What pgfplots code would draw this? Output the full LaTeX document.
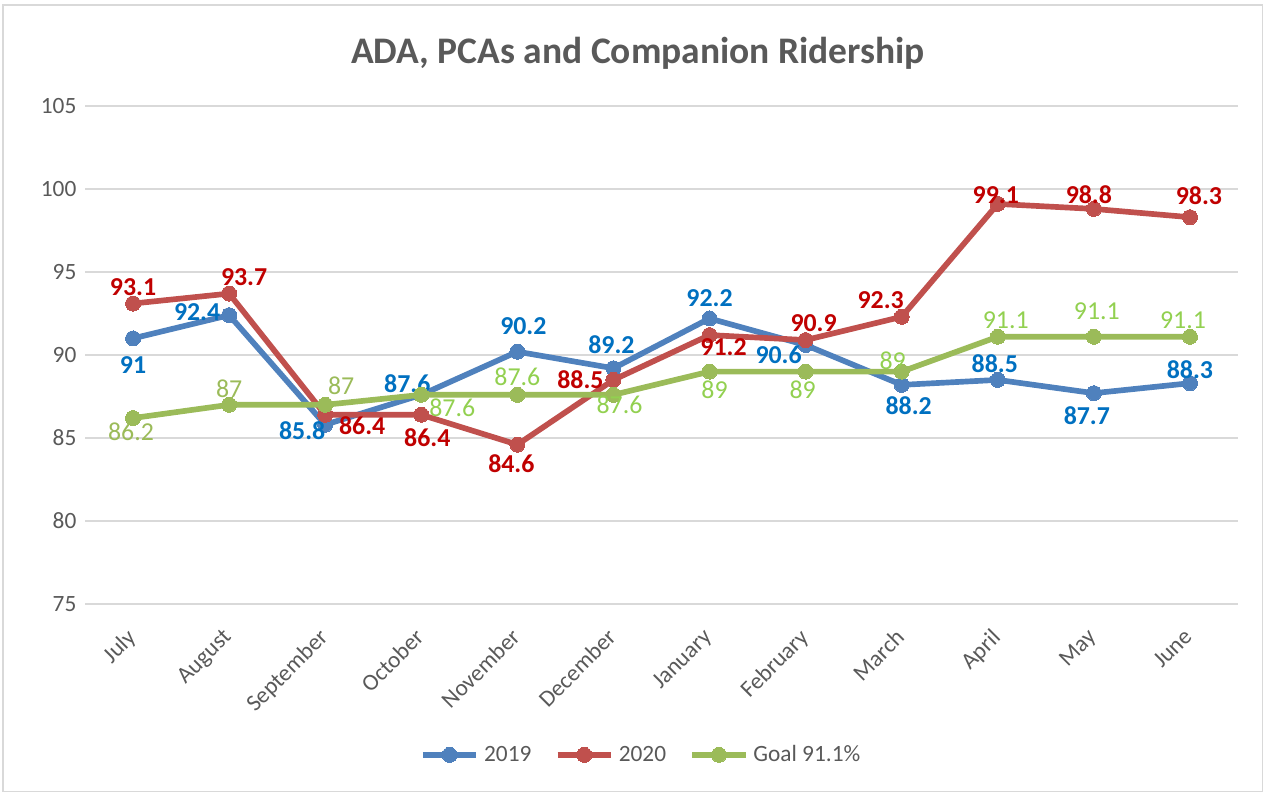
\documentclass[border=0pt]{standalone}
\usepackage{pgfplots}
\pgfplotsset{compat=1.18}
\usepackage{pgfplotstable}
\usepackage{fontspec}
\setmainfont{Carlito}
\definecolor{c19}{HTML}{4F81BD}
\definecolor{l19}{HTML}{0070C0}
\definecolor{c20}{HTML}{C0504D}
\definecolor{l20}{HTML}{C00000}
\definecolor{cg}{HTML}{9BBB59}
\definecolor{lg}{HTML}{92D050}
\definecolor{txt}{HTML}{595959}
\definecolor{gridc}{HTML}{D9D9D9}

\pgfplotstableread{
x y dx dy
0 91 0 27
1 92.4 -32 -3
2 85.8 -23 6
3 87.6 -14 -11
4 90.2 6 -26
5 89.2 -2 -24
6 92.2 0 -20
7 90.6 -27 10
8 88.2 7 21
9 88.5 -3 -16
10 87.7 -7 23
11 88.3 0 -14
}\tabA
\pgfplotstableread{
x y dx dy
0 93.1 0 -16
1 93.7 15 -16
2 86.4 37 11
3 86.4 6 23
4 84.6 -6 19
5 88.5 -33 0
6 91.2 14 12
7 90.9 8 -17
8 92.3 -21 -17
9 99.1 -2 -9
10 98.8 -5 -14
11 98.3 9 -22
}\tabB
\pgfplotstableread{
x y dx dy c
0 86.2 -2 14 0
1 87 0 -16 0
2 87 16 -19 0
3 87.6 31 13 100
4 87.6 0 -18 100
5 87.6 6 10 100
6 89 5 18 100
7 89 -3 18 100
8 89 -9 -11 100
9 91.1 8 -17 100
10 91.1 3 -26 100
11 91.1 -7 -17 100
}\tabC

\pgfplotsset{
  lbl/.style={
    nodes near coords={\pgfplotspointmeta},
    point meta=explicit symbolic,
    visualization depends on={\thisrow{dx}\as\dx},
    visualization depends on={\thisrow{dy}\as\dy},
    every node near coord/.append style={anchor=center, inner sep=0pt,
       font=\bfseries\fontsize{15.5}{18}\selectfont,
       xshift={(\dx)*0.6pt}, yshift={-(\dy)*0.6pt}},
  },
  ser/.style={#1, line width=3.4pt, line join=round, mark=*, mark size=4.5pt,
     mark options={line width=0pt, fill=#1}},
}

\begin{document}
\begin{tikzpicture}
\path[use as bounding box] (0,0) rectangle (757.8pt,475.2pt);
\draw[gridc, line width=0.8pt] (1.8pt,0.4pt) rectangle (757.4pt,472.2pt);
\node[anchor=base, font=\bfseries\fontsize{22.5}{26}\selectfont, text=txt] at (382.8pt,437pt) {ADA, PCAs and Companion Ridership};
\begin{axis}[
  at={(51pt,112.8pt)}, anchor=south west,
  scale only axis, width=691.8pt, height=298.8pt,
  xmin=-0.5, xmax=11.5, ymin=75, ymax=105,
  ytick={75,80,...,105},
  xtick={0,...,11},
  xticklabels={July,August,September,October,November,December,January,February,March,April,May,June},
  axis line style={draw=none},
  major tick length=0pt,
  ymajorgrids,
  grid style={gridc, line width=1.2pt},
  /pgf/number format/assume math mode=true,
  tick label style={font=\fontsize{14}{16}\selectfont, text=txt},
  xticklabel style={rotate=45, anchor=north east, inner sep=0pt, yshift=-6.6pt, xshift=-13pt},
  yticklabel style={anchor=east, inner sep=0pt, xshift=-5pt},
  clip=false,
  legend columns=3,
  legend style={at={(0.483,-0.303)}, anchor=center, draw=none, fill=none,
    font=\fontsize{14}{16}\selectfont, text=txt,
    /tikz/every even column/.append style={column sep=12pt},
    /tikz/every odd column/.append style={column sep=1pt}},
  legend image code/.code={\draw[mark repeat=2, mark phase=2] plot coordinates {(0pt,0pt) (16pt,0pt) (32pt,0pt)};},
]
\addlegendimage{ser=c19}
\addlegendentry{2019}
\addlegendimage{ser=c20}
\addlegendentry{2020}
\addlegendimage{ser=cg}
\addlegendentry{Goal 91.1\%}
\addplot[ser=c19, lbl, forget plot,
  every node near coord/.append style={text=l19}] table[x=x, y=y, meta=y] {\tabA};
\addplot[ser=c20, lbl, forget plot,
  every node near coord/.append style={text=l20}] table[x=x, y=y, meta=y] {\tabB};
\addplot[ser=cg, lbl, forget plot,
  visualization depends on={\thisrow{c}\as\lc},
  every node near coord/.append style={text={lg!\lc!cg}, font=\fontsize{15.5}{18}\selectfont}] table[x=x, y=y, meta=y] {\tabC};
\end{axis}
\end{tikzpicture}
\end{document}
